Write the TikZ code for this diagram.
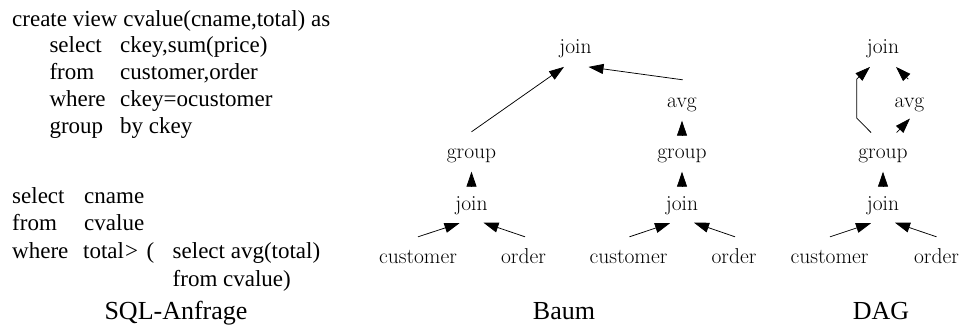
\documentclass[tikz,border=0pt]{standalone}
\usepackage{fontspec}
\newfontfamily\sqlfont{Liberation Serif}
\usetikzlibrary{arrows.meta}
\tikzset{
  sql/.style={inner sep=0pt, anchor=base west, font=\sqlfont\fontsize{23}{26}\selectfont},
  captext/.style={inner sep=0pt, anchor=base, font=\sqlfont\fontsize{26}{30}\selectfont},
  gl/.style={inner sep=0pt, anchor=base, text height=15pt, text depth=5pt, font=\fontsize{21.5}{24}\selectfont},
  arr/.style={-{Triangle[length=15pt,width=10pt]}, line width=0.75pt},
  varr/.style={arr, shorten <=8.5pt, shorten >=8.5pt}
}
\begin{document}
\begin{tikzpicture}[x=1pt,y=-1pt]
\useasboundingbox (0,0) rectangle (963,325);
% ---------- SQL ----------
\node[sql] (s0) at (12,26) {create view cvalue(cname,total) as};
\node[sql] (s1a) at (49.3,52.8) {select};
\node[sql] (s1b) at (120,52.8) {ckey,sum(price)};
\node[sql] (s2a) at (49.3,79.6) {from};
\node[sql] (s2b) at (120,79.6) {customer,order};
\node[sql] (s3a) at (49.3,106.4) {where};
\node[sql] (s3b) at (120,106.4) {ckey=ocustomer};
\node[sql] (s4a) at (49.3,133.2) {group};
\node[sql] (s4b) at (120,133.2) {by ckey};
\node[sql] (t1a) at (12,203) {select};
\node[sql] (t1b) at (84,203) {cname};
\node[sql] (t2a) at (12,230.5) {from};
\node[sql] (t2b) at (84,230.5) {cvalue};
\node[sql] (t3a) at (12,258.5) {where};
\node[sql] (t3b) at (83,258.5) {total};
\node[sql] (t3c) at (125,258.5) {>};
\node[sql] (t3d) at (146.5,258.5) {(};
\node[sql] (t3e) at (172.5,258.5) {select avg(total)};
\node[sql] (t4) at (172.5,286.5) {from cvalue)};
\node[captext] (capA) at (176,319) {SQL-Anfrage};
\node[captext] (capB) at (564,319) {Baum};
\node[captext] (capC) at (881,319) {DAG};
% ---------- Baum ----------
\node[gl] (J)  at (575.5,53) {join};
\node[gl] (a2) at (682,107) {avg};
\node[gl] (g1) at (471.5,158) {group};
\node[gl] (g2) at (682,158) {group};
\node[gl] (j1) at (471.5,210) {join};
\node[gl] (j2) at (682,210) {join};
\node[gl] (c1) at (418,263) {customer};
\node[gl] (o1) at (523.5,263) {order};
\node[gl] (c2) at (628.5,263) {customer};
\node[gl] (o2) at (734,263) {order};
\draw[arr] ([yshift=11pt]c1.north) -- ([xshift=-12pt,yshift=-8pt]j1.south);
\draw[arr] ([xshift=1.5pt,yshift=11pt]o1.north) -- ([xshift=12pt,yshift=-7.5pt]j1.south);
\draw[varr] (j1.north) -- (g1.south);
\draw[arr] ([yshift=11pt]g1.north) -- ([xshift=-11.5pt,yshift=-8.7pt]J.south);
\draw[arr] ([xshift=1pt,yshift=11pt]c2.north) -- ([xshift=-12pt,yshift=-8pt]j2.south);
\draw[arr] ([xshift=1pt,yshift=11pt]o2.north) -- ([xshift=12pt,yshift=-7.5pt]j2.south);
\draw[varr] (j2.north) -- (g2.south);
\draw[varr] (g2.north) -- (a2.south);
\draw[arr] ([xshift=0.7pt,yshift=12pt]a2.north) -- ([xshift=13pt,yshift=-8.7pt]J.south);
% ---------- DAG ----------
\node[gl] (J3) at (883,53) {join};
\node[gl] (a3) at (909.5,107) {avg};
\node[gl] (g3) at (883,158) {group};
\node[gl] (j3) at (883,210) {join};
\node[gl] (c3) at (829.5,263) {customer};
\node[gl] (o3) at (936.5,263) {order};
\draw[arr] ([xshift=0.5pt,yshift=11pt]c3.north) -- ([xshift=-12pt,yshift=-8pt]j3.south);
\draw[arr] ([yshift=11pt]o3.north) -- ([xshift=12pt,yshift=-7.5pt]j3.south);
\draw[varr] (j3.north) -- (g3.south);
\draw[arr] ([xshift=13.7pt,yshift=10.3pt]g3.north) -- ([xshift=0.5pt,yshift=-6.3pt]a3.south);
\draw[arr] ([xshift=-1.2pt,yshift=12.7pt]a3.north) -- ([xshift=13pt,yshift=-8.7pt]J3.south);
\draw[arr] ([xshift=-12pt,yshift=10.3pt]g3.north) -- ++(-14.3,-14.4) -- ++(0,-39) -- ([xshift=-13pt,yshift=-8.7pt]J3.south);
\end{tikzpicture}
\end{document}
